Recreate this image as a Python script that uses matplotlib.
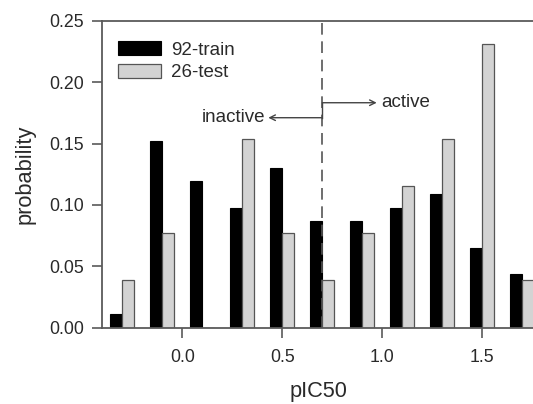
import matplotlib
matplotlib.use("Agg")
import matplotlib.pyplot as plt
import numpy as np

plt.rcParams['font.family'] = ['Liberation Sans', 'DejaVu Sans']

centers = [-0.3, -0.1, 0.1, 0.3, 0.5, 0.7, 0.9, 1.1, 1.3, 1.5, 1.7]
train = [1/92, 14/92, 11/92, 9/92, 12/92, 8/92, 8/92, 9/92, 10/92, 6/92, 4/92]
test = [1/26, 2/26, 0, 4/26, 2/26, 1/26, 2/26, 3/26, 4/26, 6/26, 1/26]
xticks = [0.0, 0.5, 1.0, 1.5]
yticks = [0.00, 0.05, 0.10, 0.15, 0.20, 0.25]
threshold = 0.7

W, H = 533, 404
fig = plt.figure(figsize=(W/100, H/100), dpi=100)
ax = fig.add_axes([102.3/W, 76.3/H, 432/W, 307/H])

spine_c = '#5a5a5a'
txt_c = '#2a2a2a'
bw = 0.06
c = np.array(centers)
ax.bar(c - bw/2, train, width=bw, color='black', edgecolor='black', linewidth=0.8, label='92-train')
ax.bar(c + bw/2, test, width=bw, color='#d3d3d3', edgecolor='#555555', linewidth=0.9, label='26-test')

ax.axvline(threshold, ymin=0, ymax=1, color='#555555', lw=1.2, linestyle=(0, (7, 4)))

ax.plot([threshold, threshold], [0.171, 0.1832], color='#444444', lw=1.0)
ax.annotate('', xy=(0.43, 0.171), xytext=(threshold, 0.171),
            arrowprops=dict(arrowstyle='->', color='#444444', lw=1.0, shrinkA=0, shrinkB=0))
ax.annotate('', xy=(0.972, 0.1832), xytext=(threshold, 0.1832),
            arrowprops=dict(arrowstyle='->', color='#444444', lw=1.0, shrinkA=0, shrinkB=0))
ax.text(0.413, 0.171, 'inactive', ha='right', va='center', fontsize=13.5, color=txt_c)
ax.text(0.995, 0.1832, 'active', ha='left', va='center', fontsize=13.5, color=txt_c)

ax.set_xlim(-0.4, 1.76)
ax.set_ylim(0, 0.25)
ax.set_xticks(xticks)
ax.set_xticklabels([f'{v:.1f}' for v in xticks])
ax.set_yticks(yticks)
ax.set_yticklabels([f'{v:.2f}' for v in yticks])
ax.tick_params(direction='out', length=7, width=1.2, color=spine_c, labelsize=12.8, labelcolor=txt_c, pad=6)
ax.tick_params(axis='x', pad=8)
for s in ax.spines.values():
    s.set_color(spine_c)
    s.set_linewidth(1.3)
ax.spines['right'].set_visible(False)

ax.set_xlabel('pIC50', fontsize=15.7, color=txt_c, labelpad=11)
ax.set_ylabel('probability', fontsize=15.7, color=txt_c, labelpad=10)

leg = ax.legend(loc='upper left', bbox_to_anchor=(0.036, 0.933), frameon=False, fontsize=13.5,
                handlelength=2.3, handleheight=0.72, handletextpad=0.55, labelspacing=0.3,
                borderaxespad=0, borderpad=0)
for t in leg.get_texts():
    t.set_color(txt_c)

fig.savefig('out.png', dpi=100)
